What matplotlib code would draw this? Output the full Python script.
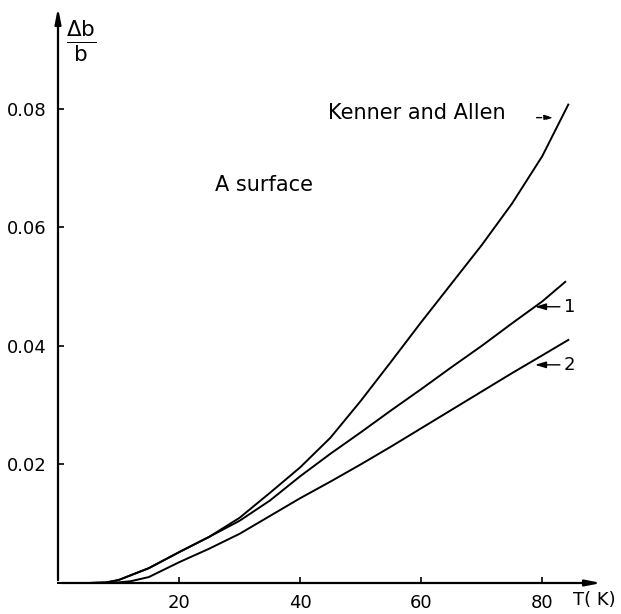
import matplotlib.pyplot as plt

# Kenner and Allen curve
t_ka = [0, 5, 8, 10, 15, 20, 25, 30, 35, 40, 45, 50, 55, 60, 65, 70, 75, 80, 84.3]
db_ka = [0, 0, 0.0001, 0.0005, 0.0025, 0.0052, 0.0078, 0.0110, 0.0152, 0.0195,
         0.0245, 0.0307, 0.0373, 0.0440, 0.0505, 0.0570, 0.0640, 0.0720, 0.0807]

# curve 1
t_1 = [0, 5, 8, 10, 15, 20, 25, 30, 35, 40, 45, 50, 55, 60, 65, 70, 75, 80, 83.8]
db_1 = [0, 0, 0.0001, 0.0005, 0.0025, 0.0052, 0.0078, 0.0105, 0.0139, 0.0180,
        0.0218, 0.0254, 0.0291, 0.0327, 0.0364, 0.0400, 0.0438, 0.0475, 0.0508]

# curve 2
t_2 = [0, 5, 9, 12, 15, 20, 25, 30, 35, 40, 45, 50, 55, 60, 65, 70, 75, 80, 84.3]
db_2 = [0, 0, 0, 0.0003, 0.0010, 0.0035, 0.0058, 0.0083, 0.0113, 0.0143,
        0.0171, 0.0200, 0.0230, 0.0261, 0.0292, 0.0323, 0.0354, 0.0384, 0.0410]

x_ticks = [20, 40, 60, 80]
y_ticks = [0.02, 0.04, 0.06, 0.08]
y_tick_labels = ["0.02", "0.04", "0.06", "0.08"]


def main():
    plt.rcParams["mathtext.fontset"] = "dejavusans"
    fig = plt.figure(figsize=(6.21, 6.14), dpi=100)
    ax = fig.add_axes([58 / 621, 31 / 614, 546 / 621, 578 / 614])
    ax.set_xlim(0, 90.2)
    ax.set_ylim(0, 0.0975)

    for t, d in [(t_ka, db_ka), (t_1, db_1), (t_2, db_2)]:
        ax.plot(t, d, color="black", lw=1.4, clip_on=False)

    # axes drawn as arrows
    for s in ax.spines.values():
        s.set_visible(False)
    arrow = dict(arrowstyle="-|>,head_length=0.9,head_width=0.18", color="black", lw=1.6)
    ax.annotate("", xy=(1, 0), xytext=(0, 0), xycoords="axes fraction", arrowprops=arrow)
    ax.annotate("", xy=(0, 1), xytext=(0, 0), xycoords="axes fraction", arrowprops=arrow)

    ax.set_xticks(x_ticks)
    ax.set_yticks(y_ticks)
    ax.set_yticklabels(y_tick_labels)
    ax.tick_params(direction="in", length=4, width=1.2, labelsize=13, pad=8)

    ax.text(85.1, -0.0029, "T( K)", fontsize=13, ha="left", va="center", clip_on=False)
    fig.text(0.131, 0.933, r"$\frac{\mathrm{\Delta b}}{\mathrm{b}}$", fontsize=22,
             ha="center", va="center")

    ax.text(25.9, 0.0672, "A surface", fontsize=15, ha="left", va="center")
    ax.text(44.6, 0.0793, "Kenner and Allen", fontsize=15, ha="left", va="center")
    ax.annotate("", xy=(82.3, 0.0785), xytext=(78.6, 0.0785),
                arrowprops=dict(arrowstyle="-|>,head_length=0.5,head_width=0.15",
                                color="black", lw=1, linestyle="--"))

    for lab, y in [("1", 0.0466), ("2", 0.0368)]:
        ax.annotate(lab, xy=(78.8, y), xytext=(83.6, y), fontsize=13,
                    ha="left", va="center",
                    arrowprops=dict(arrowstyle="-|>,head_length=0.5,head_width=0.15",
                                    color="black", lw=1, shrinkA=1, shrinkB=0))

    fig.savefig("out.png", dpi=100)


if __name__ == "__main__":
    main()
